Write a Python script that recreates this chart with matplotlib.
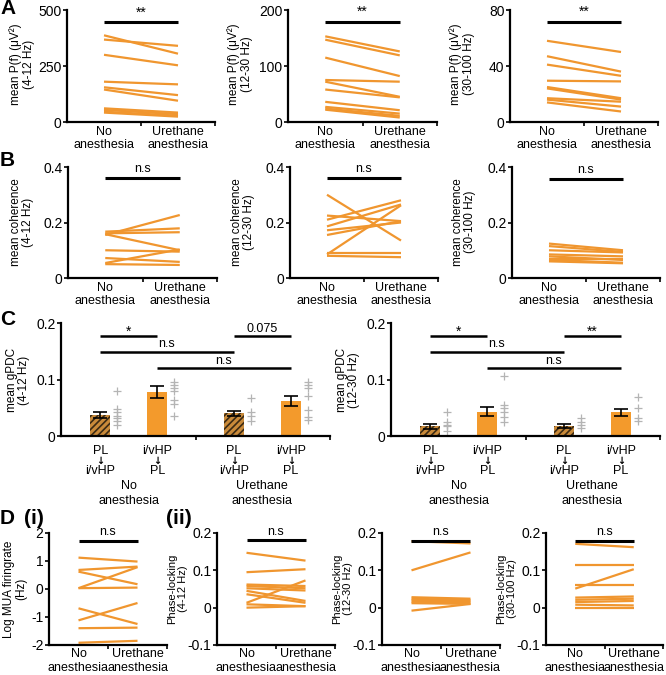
import matplotlib
matplotlib.use('Agg')
import matplotlib.pyplot as plt
import matplotlib.transforms as mtransforms

plt.rcParams['font.family'] = ['Liberation Sans', 'DejaVu Sans']
plt.rcParams['hatch.linewidth'] = 1.2

W, H = 666, 675
ORANGE = '#F0962F'
BAR_ORANGE = '#F39A2C'
HATCH_FACE = '#C98A3A'
HATCH_EDGE = '#3B2A14'
GREY = '#B4B4B4'

# ---------------- data ----------------
cond_labels = ['No\nanesthesia', 'Urethane\nanesthesia']

# A: mean power
pow_theta_no = [387, 368, 300, 180, 155, 145, 61, 54, 46, 42]
pow_theta_ure = [305, 340, 253, 168, 120, 95, 42, 35, 28, 24]
pow_beta_no = [153, 147, 115, 75, 72, 58, 36, 27, 24, 22]
pow_beta_ure = [126, 119, 82, 72, 45, 44, 21, 15, 11, 8]
pow_gamma_no = [58, 47, 41, 29.5, 25, 24, 17, 16, 14]
pow_gamma_ure = [50, 36, 33, 29, 17, 16, 14.5, 11, 7.5]

# B: mean coherence
coh_theta_no = [0.155, 0.167, 0.161, 0.158, 0.100, 0.072, 0.054, 0.050]
coh_theta_ure = [0.227, 0.179, 0.165, 0.100, 0.095, 0.058, 0.103, 0.047]
coh_beta_no = [0.300, 0.225, 0.210, 0.186, 0.172, 0.155, 0.085, 0.091, 0.080]
coh_beta_ure = [0.135, 0.205, 0.280, 0.265, 0.200, 0.205, 0.262, 0.091, 0.075]
coh_gamma_no = [0.124, 0.115, 0.100, 0.085, 0.078, 0.070, 0.065, 0.060]
coh_gamma_ure = [0.100, 0.094, 0.092, 0.078, 0.065, 0.070, 0.055, 0.053]

# C: gPDC bars
gpdc_groups = ['PL\n\u2193\ni/vHP', 'i/vHP\n\u2193\nPL', 'PL\n\u2193\ni/vHP', 'i/vHP\n\u2193\nPL']
gpdc_theta_mean = [0.037, 0.078, 0.040, 0.062]
gpdc_theta_sem = [0.006, 0.011, 0.004, 0.009]
gpdc_theta_pts = [
    [0.079, 0.048, 0.042, 0.036, 0.031, 0.026, 0.020],
    [0.096, 0.091, 0.085, 0.079, 0.064, 0.056, 0.036],
    [0.067, 0.043, 0.036, 0.027],
    [0.096, 0.091, 0.085, 0.070, 0.046, 0.034, 0.028],
]
gpdc_beta_mean = [0.017, 0.043, 0.018, 0.042]
gpdc_beta_sem = [0.004, 0.008, 0.003, 0.006]
gpdc_beta_pts = [
    [0.042, 0.025, 0.020, 0.017, 0.008],
    [0.107, 0.055, 0.049, 0.043, 0.034, 0.025],
    [0.031, 0.025, 0.020, 0.014],
    [0.069, 0.049, 0.031, 0.027],
]

# D: MUA and phase locking
mua_no = [1.12, 0.68, 0.62, 0.03, 0.03, -0.69, -1.12, -1.40, -1.92]
mua_ure = [0.98, 0.80, 0.17, 0.78, 0.05, -1.25, -0.50, -1.38, -1.85]
pl_theta_no = [0.147, 0.095, 0.062, 0.058, 0.052, 0.045, 0.036, 0.013, 0.009, 0.000]
pl_theta_ure = [0.126, 0.103, 0.058, 0.052, 0.046, 0.018, 0.013, 0.073, 0.004, 0.004]
pl_beta_no = [0.178, 0.100, 0.028, 0.024, 0.020, 0.016, 0.012, -0.008]
pl_beta_ure = [0.172, 0.148, 0.024, 0.020, 0.017, 0.014, 0.010, 0.010]
pl_gamma_no = [0.171, 0.113, 0.051, 0.062, 0.027, 0.021, 0.015, 0.008, 0.000]
pl_gamma_ure = [0.162, 0.113, 0.103, 0.062, 0.030, 0.024, 0.018, 0.006, 0.000]

# ---------------- figure ----------------
fig = plt.figure(figsize=(W / 100, H / 100), dpi=100)


def add_ax(x0, y0, x1, y1):
    return fig.add_axes([x0 / W, 1 - y1 / H, (x1 - x0) / W, (y1 - y0) / H])


def ftext(x, y, s, **kw):
    fig.text(x / W, 1 - y / H, s, **kw)


def style(ax, ylim, yticks, yticklabels, tick_fs=10):
    for s in ['top', 'right']:
        ax.spines[s].set_visible(False)
    for s in ['left', 'bottom']:
        ax.spines[s].set_linewidth(1.6)
    ax.set_ylim(*ylim)
    ax.set_yticks(yticks)
    ax.set_yticklabels(yticklabels, fontsize=tick_fs)
    ax.tick_params(axis='y', direction='out', length=3, width=1.2, pad=1)


def paired(ax, no, ure, ylim, yticks, yticklabels, sig, sig_y, sig_fs, lab_pad=3, ls=1.05):
    for a, b in zip(no, ure):
        ax.plot([0.5, 1.5], [a, b], color=ORANGE, lw=1.6, solid_capstyle='butt')
    ax.set_xlim(0, 2)
    style(ax, ylim, yticks, yticklabels)
    ax.set_xticks([0.5, 1.5])
    ax.set_xticklabels(cond_labels, fontsize=9, linespacing=ls)
    ax.tick_params(axis='x', which='major', length=0, pad=lab_pad)
    ax.set_xticks([1, 2], minor=True)
    ax.tick_params(axis='x', which='minor', direction='out', length=3, width=1.2)
    ax.plot([0.5, 1.5], [sig_y, sig_y], color='black', lw=2.2, clip_on=False,
            solid_capstyle='butt')
    ax.annotate(sig, xy=(1.0, sig_y), xytext=(0, 2), textcoords='offset points',
                ha='center', va='bottom', fontsize=sig_fs, annotation_clip=False)


def ylab(x, y, s, fs=8.5):
    ftext(x, y, s, rotation=90, ha='center', va='center', fontsize=fs, linespacing=1.1)


# Row A
axA1 = add_ax(67, 10, 215, 122)
paired(axA1, pow_theta_no, pow_theta_ure, (0, 500), [0, 250, 500], ['0', '250', '500'], '**', 445, 10)
ylab(22, 64, 'mean P(f) (\u03bcV\u00b2)\n(4-12 Hz)')
axA2 = add_ax(288, 10, 437, 122)
paired(axA2, pow_beta_no, pow_beta_ure, (0, 200), [0, 100, 200], ['0', '100', '200'], '**', 179, 10)
ylab(240, 64, 'mean P(f) (\u03bcV\u00b2)\n(12-30 Hz)')
axA3 = add_ax(510, 10, 658, 122)
paired(axA3, pow_gamma_no, pow_gamma_ure, (0, 80), [0, 40, 80], ['0', '40', '80'], '**', 71.5, 10)
ylab(462, 64, 'mean P(f) (\u03bcV\u00b2)\n(30-100 Hz)')

# Row B
bt = [0, 0.2, 0.4]
btl = ['0', '0.2', '0.4']
axB1 = add_ax(68, 167, 217, 278)
paired(axB1, coh_theta_no, coh_theta_ure, (0, 0.4), bt, btl, 'n.s', 0.36, 9)
ylab(22, 222, 'mean coherence\n(4-12 Hz)')
axB2 = add_ax(290, 167, 438, 278)
paired(axB2, coh_beta_no, coh_beta_ure, (0, 0.4), bt, btl, 'n.s', 0.36, 9)
ylab(243, 222, 'mean coherence\n(12-30 Hz)')
axB3 = add_ax(512, 167, 660, 278)
paired(axB3, coh_gamma_no, coh_gamma_ure, (0, 0.4), bt, btl, 'n.s', 0.357, 9)
ylab(464, 222, 'mean coherence\n(30-100 Hz)')

# Row C
xpos = [0.146, 0.358, 0.642, 0.854]


def gpdc(ax, means, sems, pts, sigs, ylabel, ylx):
    for i, (m, s, p) in enumerate(zip(means, sems, pts)):
        if i % 2 == 0:
            ax.bar(xpos[i], m, width=0.075, color=HATCH_FACE, edgecolor=HATCH_EDGE,
                   hatch='/////', linewidth=0)
        else:
            ax.bar(xpos[i], m, width=0.075, color=BAR_ORANGE, linewidth=0)
        ax.errorbar(xpos[i], m, yerr=s, color='black', capsize=5, elinewidth=1.2,
                    capthick=1.2, fmt='none')
        ax.plot([xpos[i] + 0.063] * len(p), p, linestyle='none', marker='+',
                color=GREY, markersize=6, mew=0.9)
    ax.set_xlim(0, 1)
    style(ax, (0, 0.2), [0, 0.1, 0.2], ['0', '0.1', '0.2'], tick_fs=10)
    ax.set_xticks([])
    ax.set_xticks([0.5, 1.0], minor=True)
    ax.tick_params(axis='x', which='minor', direction='out', length=3, width=1.2)
    # significance lines
    lines = [(0, 1, 0.177, sigs[0], 10), (2, 3, 0.177, sigs[1], 10 if sigs[1] != '0.075' else 9),
             (0, 2, 0.149, 'n.s', 9), (1, 3, 0.120, 'n.s', 9)]
    for a, b, yv, t, fs in lines:
        ax.plot([xpos[a], xpos[b]], [yv, yv], color='black', lw=1.8, clip_on=False,
                solid_capstyle='butt')
        off = -2 if t in ('*', '**') else 1
        ax.annotate(t, xy=((xpos[a] + xpos[b]) / 2, yv), xytext=(0, off),
                    textcoords='offset points', ha='center', va='bottom', fontsize=fs,
                    annotation_clip=False)
    tr = mtransforms.blended_transform_factory(ax.transData, fig.transFigure)
    for i, g in enumerate(gpdc_groups):
        top, mid, bot = g.split('\n')
        ax.text(xpos[i], 1 - 451 / H, top, transform=tr, ha='center', va='center', fontsize=9)
        ax.text(xpos[i], 1 - 461 / H, mid, transform=tr, ha='center', va='center', fontsize=7,
                fontweight='bold', family='DejaVu Sans')
        ax.text(xpos[i], 1 - 471 / H, bot, transform=tr, ha='center', va='center', fontsize=9)
    for xc, lab in [((xpos[0] + xpos[1]) / 2, cond_labels[0]), ((xpos[2] + xpos[3]) / 2, cond_labels[1])]:
        l1, l2 = lab.split('\n')
        ax.text(xc, 1 - 486 / H, l1, transform=tr, ha='center', va='center', fontsize=9)
        ax.text(xc, 1 - 501 / H, l2, transform=tr, ha='center', va='center', fontsize=9)
    ylab(ylx, 380, ylabel)


axC1 = add_ax(61, 323, 330, 436)
gpdc(axC1, gpdc_theta_mean, gpdc_theta_sem, gpdc_theta_pts, ['*', '0.075'], 'mean gPDC\n(4-12 Hz)', 18)
axC2 = add_ax(391, 323, 660, 436)
gpdc(axC2, gpdc_beta_mean, gpdc_beta_sem, gpdc_beta_pts, ['*', '**'], 'mean gPDC\n(12-30 Hz)', 348)

# Row D
plt_t = [-0.1, 0, 0.1, 0.2]
plt_tl = ['-0.1', '0', '0.1', '0.2']
axD1 = add_ax(49, 533, 167, 645)
paired(axD1, mua_no, mua_ure, (-2, 2), [-2, -1, 0, 1, 2], ['-2', '-1', '0', '1', '2'], 'n.s', 1.71, 9,
       lab_pad=2, ls=1.2)
ylab(15, 589, 'Log MUA firingrate\n(Hz)')
axD2 = add_ax(217, 533, 335, 645)
paired(axD2, pl_theta_no, pl_theta_ure, (-0.1, 0.2), plt_t, plt_tl, 'n.s', 0.18, 9, lab_pad=2, ls=1.2)
ylab(178, 589, 'Phase-locking\n(4-12 Hz)', fs=8)
axD3 = add_ax(382, 533, 500, 645)
paired(axD3, pl_beta_no, pl_beta_ure, (-0.1, 0.2), plt_t, plt_tl, 'n.s', 0.178, 9, lab_pad=2, ls=1.2)
ylab(343, 589, 'Phase-locking\n(12-30 Hz)', fs=8)
axD4 = add_ax(546, 533, 663, 645)
paired(axD4, pl_gamma_no, pl_gamma_ure, (-0.1, 0.2), plt_t, plt_tl, 'n.s', 0.179, 9, lab_pad=2, ls=1.2)
ylab(507, 589, 'Phase-locking\n(30-100 Hz)', fs=8)

# panel letters
ftext(0, 8, 'A', fontsize=15, fontweight='bold', va='center', ha='left')
ftext(0, 161, 'B', fontsize=15, fontweight='bold', va='center', ha='left')
ftext(0, 319, 'C', fontsize=15, fontweight='bold', va='center', ha='left')
ftext(0, 519, 'D', fontsize=15, fontweight='bold', va='center', ha='left')
ftext(24, 519, '(i)', fontsize=15, fontweight='bold', va='center', ha='left')
ftext(166, 519, '(ii)', fontsize=15, fontweight='bold', va='center', ha='left')

fig.savefig('out.png', dpi=100)
